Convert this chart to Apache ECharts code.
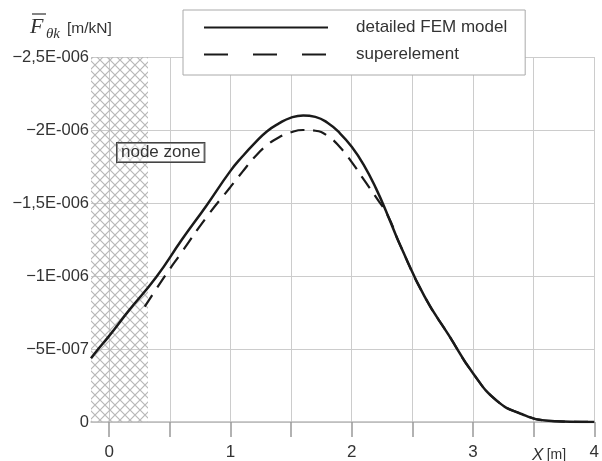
<!DOCTYPE html>
<html>
<head>
<meta charset="utf-8">
<script src="https://cdn.jsdelivr.net/npm/echarts@6/dist/echarts.min.js"></script>
<style>
  html, body { margin: 0; background: #fff; }
  #chart { width: 602px; height: 461px; }
</style>
</head>
<body>
<div id="chart"></div>
<script>
// data (x in m, F in m/kN)
var xMin = -0.15;
var nodeZoneEnd = 0.32;
var xFem = [-0.15, -0.1, 0, 0.155, 0.39, 0.6, 0.8, 1.0, 1.1, 1.2, 1.3, 1.4, 1.5, 1.6, 1.7, 1.8, 1.9, 2.0, 2.1, 2.2, 2.3, 2.4, 2.6, 2.8, 3.0, 3.2, 3.4, 3.6, 3.8, 4.0];
var yFem = [-0.436e-6, -0.49e-6, -0.59e-6, -0.756e-6, -0.995e-6, -1.25e-6, -1.48e-6, -1.72e-6, -1.82e-6, -1.91e-6, -1.99e-6, -2.045e-6, -2.085e-6, -2.10e-6, -2.09e-6, -2.05e-6, -1.98e-6, -1.885e-6, -1.76e-6, -1.60e-6, -1.41e-6, -1.21e-6, -0.86e-6, -0.595e-6, -0.334e-6, -0.143e-6, -0.055e-6, -0.01e-6, -0.002e-6, 0];
var xSuper = [0.293, 0.456, 0.6, 0.8, 1.0, 1.1, 1.2, 1.3, 1.4, 1.5, 1.6, 1.7, 1.8, 1.9, 2.0, 2.1, 2.2, 2.3, 2.4, 2.6, 2.8, 3.0, 3.2, 3.4, 3.6, 3.8, 4.0];
var ySuper = [-0.79e-6, -0.995e-6, -1.165e-6, -1.40e-6, -1.61e-6, -1.715e-6, -1.815e-6, -1.895e-6, -1.95e-6, -1.985e-6, -2.0e-6, -1.995e-6, -1.96e-6, -1.885e-6, -1.78e-6, -1.66e-6, -1.54e-6, -1.41e-6, -1.21e-6, -0.86e-6, -0.595e-6, -0.334e-6, -0.143e-6, -0.055e-6, -0.01e-6, -0.002e-6, 0];
var xTicks = [0, 0.5, 1, 1.5, 2, 2.5, 3, 3.5, 4];
var xLabels = [0, 1, 2, 3, 4];
var yTickLabels = ['0', '\u22125E-007', '\u22121E-006', '\u22121,5E-006', '\u22122E-006', '\u22122,5E-006'];
var seriesNames = ['detailed FEM model', 'superelement'];

function pairs(xs, ys) {
    var out = [];
    for (var i = 0; i < xs.length; i++) out.push([xs[i], ys[i]]);
    return out;
}

// cross hatch for the node zone
var hatch = document.createElement('canvas');
hatch.width = 10;
hatch.height = 10;
var ctx = hatch.getContext('2d');
ctx.strokeStyle = '#b8b8b8';
ctx.lineWidth = 1.2;
ctx.beginPath();
ctx.moveTo(0, 0); ctx.lineTo(10, 10);
ctx.moveTo(10, 0); ctx.lineTo(0, 10);
ctx.stroke();

var myChart = echarts.init(document.getElementById('chart'));
var option = {
    animation: false,
    textStyle: { fontFamily: 'Liberation Sans, Arial, sans-serif' },
    grid: { left: 91, right: 2, top: 57, bottom: 37 },
    legend: {
        orient: 'vertical',
        left: 183,
        top: 10,
        padding: [9, 18, 12, 20],
        itemWidth: 124,
        itemHeight: 14,
        itemGap: 10,
        borderColor: '#aaa',
        borderWidth: 1,
        backgroundColor: '#fff',
        itemStyle: { color: 'rgba(0,0,0,0)', borderWidth: 0 },
        textStyle: { fontSize: 17, lineHeight: 14, color: '#333', padding: [0, 0, 0, 23] },
        data: [
            { name: seriesNames[0] },
            { name: seriesNames[1], lineStyle: { type: [24, 25] } }
        ]
    },
    xAxis: {
        type: 'value',
        min: xMin,
        max: 4,
        splitNumber: 4,
        axisLine: { show: true, onZero: false, lineStyle: { color: '#bbb', width: 1.5 } },
        axisTick: { show: true, customValues: xTicks, length: 15, lineStyle: { color: '#999', width: 1.5 } },
        axisLabel: { customValues: xLabels, margin: 22, fontSize: 17, color: '#333' },
        splitLine: { show: true, lineStyle: { color: '#ccc' } }
    },
    yAxis: {
        type: 'value',
        inverse: true,
        min: -2.5e-6,
        max: 0,
        interval: 5e-7,
        axisLine: { show: false },
        axisTick: { show: false },
        axisLabel: {
            margin: 2,
            fontSize: 16.5,
            color: '#333',
            formatter: function (v) {
                return yTickLabels[Math.round(-v / 5e-7)];
            }
        },
        splitLine: { lineStyle: { color: '#ccc' } }
    },
    graphic: [
        {
            type: 'line',
            shape: { x1: 32, y1: 14, x2: 46, y2: 14 },
            style: { stroke: '#333', lineWidth: 1.2 }
        },
        {
            type: 'text',
            left: 30,
            top: 16,
            style: { text: 'F', font: 'italic 22px "Liberation Serif"', fill: '#333' }
        },
        {
            type: 'text',
            left: 46,
            top: 27,
            style: { text: '\u03b8k', font: 'italic 15px "Liberation Serif"', fill: '#333' }
        },
        {
            type: 'text',
            left: 67,
            top: 21,
            style: { text: '[m/kN]', font: '15.5px "Liberation Sans"', fill: '#333' }
        },
        {
            type: 'text',
            left: 532,
            top: 447,
            style: {
                text: '{x|X} {m|[m]}',
                rich: {
                    x: { fontFamily: 'Liberation Sans', fontStyle: 'italic', fontSize: 17, fill: '#333' },
                    m: { fontFamily: 'Liberation Sans', fontSize: 14, fill: '#333' }
                }
            }
        }
    ],
    series: [
        {
            name: seriesNames[0],
            type: 'line',
            smooth: true,
            symbol: 'none',
            showSymbol: false,
            lineStyle: { color: '#1a1a1a', width: 2.5 },
            itemStyle: { color: '#1a1a1a' },
            data: pairs(xFem, yFem),
            markArea: {
                silent: true,
                itemStyle: { color: { image: hatch, repeat: 'repeat' } },
                label: {
                    show: true,
                    position: [26, 86],
                    formatter: 'node zone',
                    fontSize: 17,
                    color: '#333',
                    borderColor: '#444',
                    borderWidth: 1,
                    padding: [1, 4, 1, 4],
                    backgroundColor: 'rgba(255,255,255,0.4)'
                },
                data: [[{ xAxis: xMin }, { xAxis: nodeZoneEnd }]]
            }
        },
        {
            name: seriesNames[1],
            type: 'line',
            smooth: true,
            symbol: 'none',
            showSymbol: false,
            lineStyle: { color: '#1a1a1a', width: 2.2, type: [14, 9] },
            itemStyle: { color: '#1a1a1a' },
            data: pairs(xSuper, ySuper)
        }
    ]
};
myChart.setOption(option);
</script>
</body>
</html>
